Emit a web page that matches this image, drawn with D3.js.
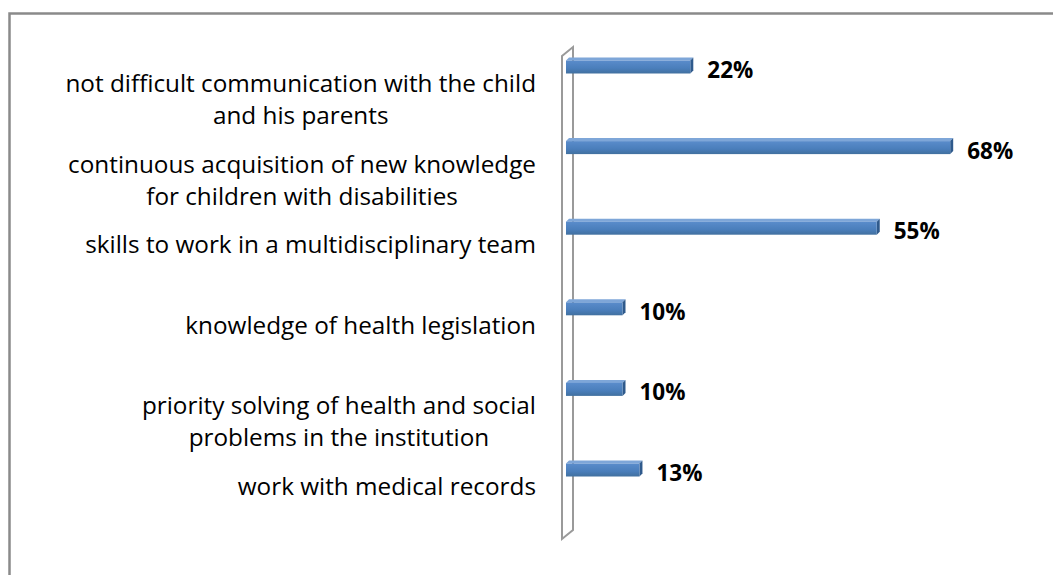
<!doctype html>
<html lang="en">
<head>
  <meta charset="utf-8">
  <script src="https://d3js.org/d3.v7.min.js"></script>
  <style>
    body { margin: 0; background: #fff; }
  </style>
</head>
<body>
  <script>
    // chart data
    var categories = [
      ["not difficult communication with the child", "and his parents"],
      ["continuous acquisition of new knowledge", "for children with disabilities"],
      ["skills to work in a multidisciplinary team"],
      ["knowledge of health legislation"],
      ["priority solving of health and social", "problems in the institution"],
      ["work with medical records"]
    ];
    var values = [22, 68, 55, 10, 10, 13];
    var valueLabels = ["22%", "68%", "55%", "10%", "10%", "13%"];

    var width = 1053,
        height = 575;

    var svg = d3.select("body").append("svg")
        .attr("width", width)
        .attr("height", height);

    // outer chart frame (runs past the right and bottom edge)
    svg.append("rect")
        .attr("x", 9.5).attr("y", 13.5)
        .attr("width", 1100).attr("height", 700)
        .attr("fill", "#fff")
        .attr("stroke", "#8a8a8a")
        .attr("stroke-width", 2.5);

    var idx = d3.range(values.length);

    var x = d3.scaleLinear()
        .domain([0, 100])
        .range([566, 1131]);

    var y = d3.scalePoint()
        .domain(idx)
        .range([67, 470]);

    // 3d side wall of the category axis
    var wall = [[562, 56], [573, 47], [573, 530], [562, 539]];
    svg.append("path")
        .attr("d", d3.line()(wall) + "Z")
        .attr("fill", "#fff")
        .attr("stroke", "#9a9a9a")
        .attr("stroke-width", 2);

    var defs = svg.append("defs");
    var grad = defs.append("linearGradient")
        .attr("id", "barFace")
        .attr("x1", 0).attr("y1", 0).attr("x2", 0).attr("y2", 1);
    grad.append("stop").attr("offset", "0%").attr("stop-color", "#5a8ccb");
    grad.append("stop").attr("offset", "60%").attr("stop-color", "#4a7ebb");
    grad.append("stop").attr("offset", "100%").attr("stop-color", "#41709f");

    var barH = 13, dx = 3, dy = 3;

    var bars = svg.selectAll("g.bar")
        .data(idx)
      .enter().append("g")
        .attr("class", "bar");

    // top face
    bars.append("path")
        .attr("d", function(i) {
          var x0 = x(0), x1 = x(values[i]), t = y(i) - barH / 2;
          return d3.line()([[x0, t], [x0 + dx, t - dy], [x1 + dx, t - dy], [x1, t]]) + "Z";
        })
        .attr("fill", "#7ea6d8");

    // side face
    bars.append("path")
        .attr("d", function(i) {
          var x1 = x(values[i]), t = y(i) - barH / 2;
          return d3.line()([[x1, t], [x1 + dx, t - dy], [x1 + dx, t + barH - dy], [x1, t + barH]]) + "Z";
        })
        .attr("fill", "#2f5a8c");

    // front face
    bars.append("rect")
        .attr("x", x(0))
        .attr("y", function(i) { return y(i) - barH / 2; })
        .attr("width", function(i) { return x(values[i]) - x(0); })
        .attr("height", barH)
        .attr("fill", "url(#barFace)");

    // value labels
    svg.selectAll("text.val")
        .data(idx)
      .enter().append("text")
        .attr("class", "val")
        .attr("x", function(i) { return x(values[i]) + dx + 14; })
        .attr("y", function(i) { return y(i) + 11; })
        .attr("font-family", "'Open Sans', sans-serif")
        .attr("font-weight", "bold")
        .attr("font-size", 22.5)
        .attr("fill", "#000")
        .text(function(i) { return valueLabels[i]; });

    // category labels: block right-aligned, wrapped lines centred
    var labelRight = 536, lineGap = 32, fontSize = 24.3;
    var cats = svg.selectAll("g.cat")
        .data(idx)
      .enter().append("g")
        .attr("class", "cat");

    cats.each(function(i) {
      var g = d3.select(this);
      var lines = categories[i];
      var texts = lines.map(function(s, k) {
        return g.append("text")
            .attr("y", y(i) + 25 + k * lineGap)
            .attr("font-family", "'Open Sans', sans-serif")
            .attr("font-size", fontSize)
            .attr("fill", "#000")
            .attr("text-anchor", "middle")
            .text(s);
      });
      var maxW = d3.max(texts, function(t) { return t.node().getComputedTextLength(); });
      texts.forEach(function(t) { t.attr("x", labelRight - maxW / 2); });
    });
  </script>
</body>
</html>
